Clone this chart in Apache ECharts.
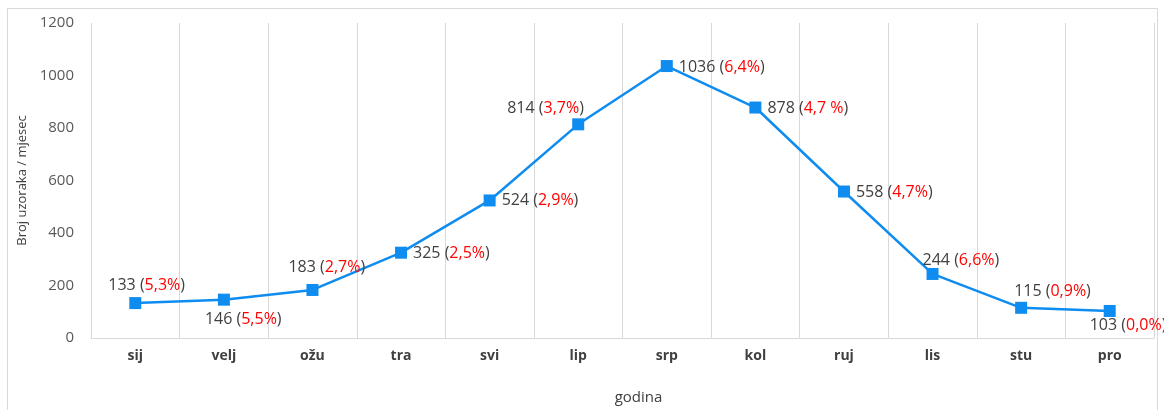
<!DOCTYPE html>
<html>
<head>
<meta charset="utf-8">
<script src="https://cdn.jsdelivr.net/npm/echarts@6/dist/echarts.min.js"></script>
<style>
  html, body { margin: 0; padding: 0; background: #fff; }
  #chart { width: 1164px; height: 410px; }
</style>
</head>
<body>
<div id="chart"></div>
<script>
// podaci
const months = ["sij", "velj", "ožu", "tra", "svi", "lip", "srp", "kol", "ruj", "lis", "stu", "pro"];
const counts = [133, 146, 183, 325, 524, 814, 1036, 878, 558, 244, 115, 103];
const shares = ["5,3%", "5,5%", "2,7%", "2,5%", "2,9%", "3,7%", "6,4%", "4,7 %", "4,7%", "6,6%", "0,9%", "0,0%"];
const yTicks = [0, 200, 400, 600, 800, 1000, 1200];

// pomaci natpisa u odnosu na točku [x, y]
const labelOffsets = [
  [-27, -18], [-19, 20], [-24, -23], [12, 1], [12, 0], [-71, -16],
  [12, 1], [12, 1], [12, 1], [-10, -14], [-7, -16], [-20, 14]
];

const chart = echarts.init(document.getElementById("chart"));

const seriesData = counts.map((v, i) => ({
  value: v,
  label: {
    offset: labelOffsets[i]
  }
}));

chart.setOption({
  animation: false,
  textStyle: { fontFamily: "'Open Sans', Lato, sans-serif" },
  graphic: [
    {
      type: "rect",
      shape: { x: 7.5, y: 8.5, width: 1150, height: 410 },
      style: { fill: "none", stroke: "#d9d9d9", lineWidth: 1 },
      silent: true
    }
  ],
  grid: { left: 91, right: 10, top: 23, bottom: 72 },
  xAxis: {
    type: "category",
    data: months,
    boundaryGap: true,
    name: "godina",
    nameLocation: "middle",
    nameGap: 52,
    nameTextStyle: { color: "#404040", fontSize: 15, padding: [0, 0, 0, 32] },
    axisTick: { show: false },
    axisLine: { lineStyle: { color: "#d9d9d9", width: 1 } },
    splitLine: { show: true, lineStyle: { color: "#d9d9d9", width: 1 } },
    axisLabel: { color: "#404040", fontSize: 14, fontWeight: "bold", margin: 11 }
  },
  yAxis: {
    type: "value",
    min: yTicks[0],
    max: yTicks[yTicks.length - 1],
    interval: yTicks[1] - yTicks[0],
    name: "Broj uzoraka / mjesec",
    nameLocation: "middle",
    nameGap: 57,
    nameTextStyle: { color: "#404040", fontSize: 13 },
    axisLine: { show: false },
    axisTick: { show: false },
    splitLine: { show: false },
    axisLabel: { color: "#595959", fontSize: 15, margin: 17, formatter: v => String(v) }
  },
  series: [
    {
      type: "line",
      data: seriesData,
      symbol: "rect",
      symbolSize: 12,
      lineStyle: { color: "#0f8cf0", width: 2.5 },
      itemStyle: { color: "#0f8cf0" },
      label: {
        show: true,
        position: "inside",
        align: "left",
        verticalAlign: "middle",
        formatter: p => "{v|" + p.value + " (}{p|" + shares[p.dataIndex] + "}{v|)}",
        rich: {
          v: { color: "#404040", fontSize: 16 },
          p: { color: "#ff0000", fontSize: 16 }
        }
      }
    }
  ]
});
</script>
</body>
</html>
